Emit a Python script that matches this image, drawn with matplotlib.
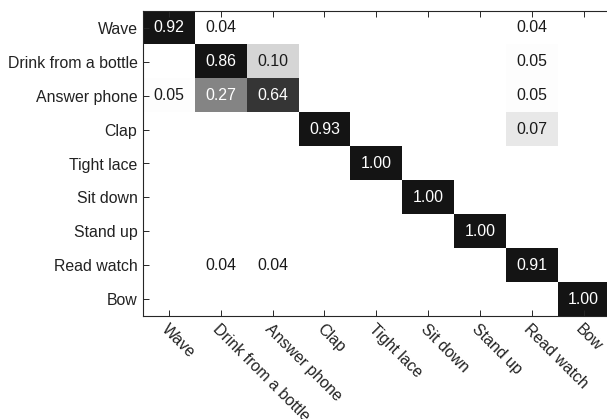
import numpy as np
import matplotlib
matplotlib.use("Agg")
import matplotlib.pyplot as plt
from matplotlib.colors import LinearSegmentedColormap, Normalize

plt.rcParams['font.family'] = ['Liberation Sans', 'DejaVu Sans']

classes = ["Wave", "Drink from a bottle", "Answer phone", "Clap", "Tight lace",
           "Sit down", "Stand up", "Read watch", "Bow"]

row_wave = [0.92, 0.04, 0, 0, 0, 0, 0, 0.04, 0]
row_drink = [0, 0.86, 0.10, 0, 0, 0, 0, 0.05, 0]
row_answer = [0.05, 0.27, 0.64, 0, 0, 0, 0, 0.05, 0]
row_clap = [0, 0, 0, 0.93, 0, 0, 0, 0.07, 0]
row_lace = [0, 0, 0, 0, 1.00, 0, 0, 0, 0]
row_sit = [0, 0, 0, 0, 0, 1.00, 0, 0, 0]
row_stand = [0, 0, 0, 0, 0, 0, 1.00, 0, 0]
row_watch = [0, 0.04, 0.04, 0, 0, 0, 0, 0.91, 0]
row_bow = [0, 0, 0, 0, 0, 0, 0, 0, 1.00]

M = np.array([row_wave, row_drink, row_answer, row_clap, row_lace,
              row_sit, row_stand, row_watch, row_bow])

# grayscale mapping (white for low values, near-black for high)
pos = [0.0, 0.045, 0.055, 0.075, 0.11, 0.28, 0.65, 0.85, 1.0]
lev = [1.0, 1.0, 0.97, 0.87, 0.82, 0.50, 0.20, 0.08, 0.08]
cmap = LinearSegmentedColormap.from_list("g", list(zip(pos, [(l, l, l) for l in lev])))

fs = 11.4
fig = plt.figure(figsize=(6.07, 4.19), dpi=100)
ax = fig.add_axes([143/607, 1-316/419, (609.5-143)/607, (316-11)/419])
ax.imshow(M, cmap=cmap, norm=Normalize(0, 1), aspect='auto', interpolation='nearest')

n = len(classes)
for i in range(n):
    for j in range(n):
        v = M[i, j]
        if v > 0:
            ax.text(j, i, f"{v:.2f}", ha='center', va='center', fontsize=fs,
                    color='white' if v > 0.2 else '#1a1a1a')

ax.set_xticks(range(n))
ax.set_yticks(range(n))
ax.set_yticklabels(classes, fontsize=fs, color='#222222')
ax.set_xticklabels(classes, fontsize=fs, color='#222222', rotation=-45,
                   ha='left', va='top', rotation_mode='anchor')
ax.tick_params(direction='in', top=True, right=False, length=4, width=0.7,
               color='#262626', pad=4)
for s in ax.spines.values():
    s.set_linewidth(0.8)
    s.set_color('#262626')

fig.savefig("out.png", dpi=100)
